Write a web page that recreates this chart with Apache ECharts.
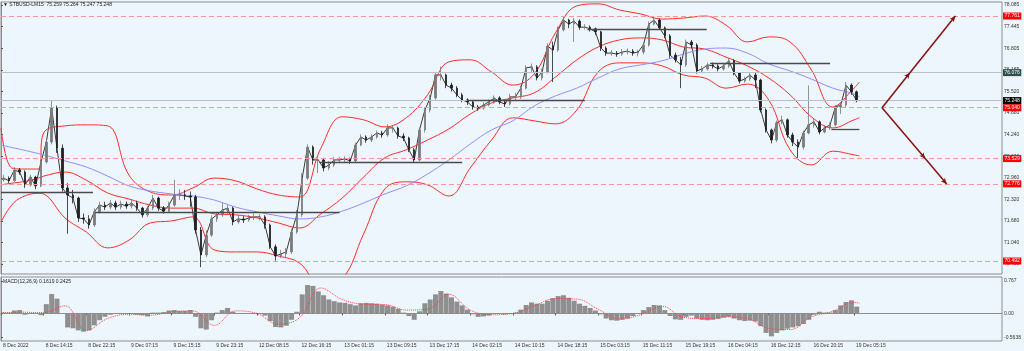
<!DOCTYPE html>
<html><head><meta charset="utf-8">
<script src="https://cdn.jsdelivr.net/npm/echarts@6/dist/echarts.min.js"></script>
<style>html,body{margin:0;padding:0;background:#eef6fd;}#c{width:1024px;height:351px;}</style>
</head><body><div id="c"></div>
<script>
// ---- tick labels ----
const xTickLabels = ["8 Dec 2022","8 Dec 14:15","8 Dec 22:15","9 Dec 07:15","9 Dec 15:15","9 Dec 23:15","12 Dec 08:15","12 Dec 16:15","13 Dec 01:15","13 Dec 09:15","13 Dec 17:15","14 Dec 02:15","14 Dec 10:15","14 Dec 18:15","15 Dec 03:15","15 Dec 11:15","15 Dec 19:15","16 Dec 04:15","16 Dec 12:15","16 Dec 20:15","19 Dec 05:15"];
const yTicks = [70.4,71.04,71.68,72.32,72.96,73.6,74.24,74.88,75.52,76.165,76.805,77.445,78.085];
const macdTicks = [-0.5638,0,0.767];
const macdTickLabels = ["-0.5638","0.00","0.767"];

// ---- price (hourly candles, open = previous close) ----
const firstOpen = 72.90;
const closes = [
72.95,72.87,73.19,73.13,72.75,72.98,72.72,73.43,74.02,75.03,
73.84,72.66,72.45,72.36,71.77,71.74,71.56,71.95,72.15,72.09,
72.21,72.09,72.18,72.12,72.21,72.06,71.86,72.06,72.36,72.06,
71.97,72.15,72.45,72.45,72.42,72.39,71.41,70.67,71.26,71.74,
71.86,72.00,72.06,71.65,71.74,71.71,71.77,71.80,71.80,71.56,
70.91,70.64,70.70,70.76,71.35,71.86,72.95,73.87,73.49,73.49,
73.25,73.34,73.49,73.49,73.52,73.46,73.93,74.17,74.08,74.17,
74.29,74.23,74.44,74.44,74.20,74.14,73.79,73.49,74.38,74.97,
75.33,76.01,76.01,75.71,75.62,75.42,75.27,75.21,75.06,75.03,
75.12,75.21,75.33,75.21,75.15,75.36,75.36,75.62,76.22,76.25,
75.92,76.10,76.87,76.75,77.35,77.64,77.52,77.61,77.43,77.43,
77.38,77.29,76.81,76.66,76.66,76.63,76.69,76.72,76.66,76.69,
76.90,77.52,77.64,77.41,77.17,76.60,76.46,76.31,76.99,76.90,
76.13,76.19,76.31,76.28,76.19,76.28,76.43,76.07,75.83,75.89,
76.01,75.86,74.97,74.38,74.08,74.59,74.68,74.23,74.02,73.87,
74.29,74.53,74.62,74.32,74.44,74.53,75.06,75.12,75.71,75.51,
75.248];
const highs = [
73.05,73.00,73.28,73.25,73.18,73.05,73.02,73.50,74.15,75.25,
75.10,73.95,72.80,72.60,72.40,71.90,71.85,72.05,72.25,72.25,
72.30,72.28,72.28,72.26,72.30,72.28,72.10,72.12,72.45,72.40,
72.12,72.25,72.90,72.62,72.60,72.55,72.45,71.50,71.40,71.85,
71.95,72.22,72.15,72.10,71.85,71.82,71.86,71.90,71.88,71.85,
71.60,70.98,70.82,70.88,71.45,72.00,73.10,73.95,73.92,73.62,
73.55,73.45,73.58,73.58,73.60,73.56,74.00,74.25,74.22,74.25,
74.36,74.35,74.55,74.52,74.48,74.28,74.18,73.85,74.45,75.05,
75.42,76.10,76.26,76.05,75.78,75.68,75.48,75.32,75.26,75.12,
75.20,75.28,75.40,75.38,75.26,75.45,75.48,75.70,76.30,76.35,
76.30,76.20,76.95,77.00,77.45,77.75,77.68,77.70,77.66,77.52,
77.48,77.42,77.32,76.86,76.75,76.72,76.78,76.80,76.78,76.76,
76.98,77.60,77.76,77.68,77.45,77.22,76.68,76.55,77.06,77.05,
76.95,76.28,76.38,76.38,76.33,76.36,76.50,76.48,76.10,75.96,
76.08,76.10,75.90,75.02,74.42,74.66,74.80,74.72,74.30,74.10,
74.36,75.70,74.72,74.66,74.52,74.60,75.12,75.20,75.80,75.76,
75.55];
const lows = [
72.85,72.80,72.84,73.05,72.66,72.70,72.62,72.68,73.38,73.95,
73.70,72.55,71.30,72.20,71.65,71.60,71.45,71.50,71.90,72.00,
72.02,72.00,72.02,72.04,72.05,71.98,71.78,71.80,72.00,71.98,
71.90,71.92,72.10,72.30,72.30,72.10,71.30,70.31,70.60,71.20,
71.65,71.80,71.90,71.55,71.60,71.62,71.66,71.70,71.70,71.45,
70.85,70.50,70.58,70.60,70.70,71.30,71.80,72.90,73.35,73.10,
73.15,73.18,73.28,73.40,73.42,73.38,73.42,73.90,74.00,74.02,
74.12,74.15,74.18,74.30,74.12,74.05,73.72,73.40,73.45,74.30,
74.90,75.28,75.85,75.62,75.52,75.35,75.20,75.12,74.98,74.95,
74.98,75.08,75.16,75.14,75.06,75.10,75.26,75.30,75.58,76.10,
75.85,75.85,76.05,75.80,76.70,77.30,77.40,76.99,77.35,77.36,
77.30,77.20,76.72,76.58,76.58,76.55,76.58,76.62,76.58,76.56,
76.62,76.85,77.48,77.35,77.10,76.52,76.38,75.62,76.25,76.80,
76.05,76.08,76.14,76.20,76.12,76.14,76.22,76.00,75.76,75.78,
75.84,75.62,74.90,74.30,73.98,74.02,74.55,74.15,73.90,73.55,
73.80,74.25,74.45,74.25,74.28,74.38,74.48,74.85,75.05,75.42,
75.20];

// ---- indicator lines sampled at bar indices ----
const bandBars = [0,8,16,28,32,48,64,80,96,112,128,144,160,176,192,208,224,240,256,272,288,304,320,336,352,368,384,400,416,432,448,464,480,496,512,528,544,560,576,592,608,624,640,644];
const bbUpper = [74.44,73.25,73.22,73.22,74.29,74.50,74.53,74.50,73.04,72.54,72.45,72.66,
72.95,72.87,72.63,72.45,72.39,73.84,74.77,74.68,74.47,74.74,
75.42,76.40,76.46,76.10,75.71,76.04,77.26,78.06,78.12,77.94,
77.82,77.67,77.70,77.76,77.49,76.99,77.14,76.99,76.16,75.06,
75.62,75.80];
const bbMiddle = [72.75,72.80,72.84,72.95,73.01,73.13,72.89,72.51,72.33,72.15,72.06,72.06,
71.89,71.86,71.77,71.62,71.47,71.89,72.36,72.98,73.55,73.79,
74.08,74.41,74.85,75.18,75.33,75.48,75.95,76.46,76.84,77.05,
77.11,77.05,76.84,76.78,76.54,76.28,75.92,75.42,74.77,74.44,
74.68,74.74];
const bbLower = [71.65,72.15,72.39,72.50,72.48,71.77,71.35,70.88,71.11,71.62,71.68,71.80,
70.82,70.76,70.76,70.64,70.43,69.78,69.96,71.29,72.63,72.84,
72.75,72.42,73.25,74.08,74.74,74.65,74.56,74.97,76.10,76.37,
76.37,76.28,76.01,75.92,75.62,75.74,75.27,73.79,73.34,73.75,
73.64,73.61];
const maLine = [73.93,73.86,73.79,73.68,73.64,73.46,73.28,73.01,72.72,72.57,72.48,72.42,
72.30,72.09,71.95,71.83,71.74,71.80,71.97,72.21,72.48,72.72,
73.07,73.49,73.96,74.38,74.65,75.09,75.39,75.62,75.92,76.19,
76.31,76.43,76.63,76.78,76.81,76.66,76.34,76.13,75.89,75.62,
75.45,75.36];

// ---- MACD (hourly) and signal (sampled at bandBars) ----
const macd = [
0.02,0.02,0.07,0.08,-0.03,0.01,0.01,-0.04,0.22,0.46,
0.35,0.00,-0.33,-0.35,-0.40,-0.43,-0.40,-0.28,-0.16,-0.08,
-0.03,-0.01,-0.01,-0.01,-0.01,-0.03,-0.04,-0.07,0.02,0.02,
0.03,0.07,0.08,0.06,0.06,0.08,-0.08,-0.35,-0.38,-0.16,
0.02,0.08,0.13,0.04,-0.01,0.00,0.00,0.00,0.00,-0.05,
-0.18,-0.32,-0.33,-0.29,-0.15,0.04,0.45,0.67,0.65,0.52,
0.43,0.33,0.29,0.26,0.25,0.22,0.19,0.24,0.25,0.24,
0.23,0.21,0.19,0.16,0.11,0.02,-0.06,-0.15,0.05,0.24,
0.33,0.45,0.53,0.47,0.38,0.28,0.19,0.09,-0.02,-0.08,
-0.07,-0.05,-0.01,-0.01,-0.02,0.00,0.02,0.09,0.20,0.26,
0.23,0.23,0.30,0.36,0.41,0.43,0.37,0.30,0.23,0.18,
0.13,0.07,-0.02,-0.12,-0.16,-0.17,-0.15,-0.12,-0.06,0.00,
0.08,0.15,0.20,0.19,0.08,-0.06,-0.14,-0.15,-0.08,-0.05,
-0.12,-0.15,-0.16,-0.15,-0.13,-0.10,-0.08,-0.12,-0.16,-0.18,
-0.17,-0.19,-0.30,-0.46,-0.54,-0.46,-0.40,-0.36,-0.33,-0.30,
-0.25,-0.15,-0.03,0.04,0.02,0.02,0.08,0.19,0.27,0.31,
0.1619];
const signal = [0.02,0.02,0.03,0.02,0.02,0.18,-0.40,-0.12,-0.02,-0.04,0.04,0.06,
-0.28,0.06,0.00,-0.25,-0.10,0.60,0.33,0.22,0.21,0.08,
0.10,0.45,0.08,-0.03,0.00,0.18,0.35,0.34,0.10,-0.13,
-0.03,0.17,-0.09,-0.12,-0.08,-0.12,-0.35,-0.38,-0.08,0.05,
0.26,0.2425];

// ---- levels and drawn objects ----
const redLevels = [77.761,75.040,73.529,72.776,70.492];
const greyLevels = [76.076,75.248];
const greyLevelBoxes = ['#2f4f4f','#000000'];
const segStart = [0,70.5,239,349.5,440,532,623];
const segEnd = [69,254,346,438,529.5,622,644];
const segLevel = [72.54,71.93,73.41,75.27,77.37,76.37,74.40];
const arrowStart = [661,75.040];
const arrowUp = [[681.9,76.076],[716,77.761]];
const arrowDown = [[693.4,73.529],[709.5,72.776]];

const FONT = 'Liberation Sans, Arial, sans-serif';
const xMax = 751;
const tickBars = xTickLabels.map((_, k) => 32 * k);
const candleData = closes.map((c, i) => [4 * i + 2, i === 0 ? firstOpen : closes[i - 1], c, lows[i], highs[i]]);
const closeTrace = closes.map((c, i) => [4 * i + 2, c]);
const pair = arr => bandBars.map((b, i) => [b, arr[i]]);
const macdData = macd.map((v, i) => [4 * i + 2, v]);

const boxLabel = (bg, v) => ({show: true, position: 'end', distance: 1, formatter: v.toFixed(3),
  backgroundColor: bg, color: '#fff', fontSize: 5, fontFamily: FONT, padding: [1, 1.5, 1, 1.5]});

const levelLines = [];
redLevels.forEach(v => levelLines.push({yAxis: v, lineStyle: {color: '#f19a9a', type: [5, 3], width: 1}, label: boxLabel('#ff0000', v)}));
greyLevels.forEach((v, i) => levelLines.push({yAxis: v, lineStyle: {color: '#b7c0c8', type: 'solid', width: 1}, label: boxLabel(greyLevelBoxes[i], v)}));
segLevel.forEach((v, i) => levelLines.push([
  {coord: [segStart[i], v], lineStyle: {color: '#4a4a4a', type: 'solid', width: 1.3}, label: {show: false}},
  {coord: [segEnd[i], v]}
]));

const arrowLines = [];
[arrowUp, arrowDown].forEach(path => {
  let prev = arrowStart;
  path.forEach(pt => { arrowLines.push([{coord: prev}, {coord: pt}]); prev = pt; });
});

const lineS = (name, arr, color, extra) => Object.assign({
  name, type: 'line', xAxisIndex: 0, yAxisIndex: 0, data: pair(arr), smooth: 0.4, showSymbol: false, symbol: 'none',
  lineStyle: {color, width: 1}, silent: true, z: 3
}, extra || {});

const option = {
  backgroundColor: '#eef6fd',
  animation: false,
  grid: [
    {left: 1, top: 2, width: 1001, height: 272, show: true, borderColor: '#8e8e8e', borderWidth: 1},
    {left: 1, top: 277, width: 1001, height: 64, show: true, borderColor: '#8e8e8e', borderWidth: 1}
  ],
  xAxis: [
    {type: 'value', gridIndex: 0, min: 0, max: xMax, interval: 32, axisLine: {show: false}, axisTick: {show: false}, axisLabel: {show: false}, splitLine: {show: false}},
    {type: 'value', gridIndex: 1, min: 0, max: xMax, interval: 32,
      axisLine: {show: true, lineStyle: {color: '#8e8e8e'}},
      axisTick: {show: true, length: 2, customValues: tickBars, lineStyle: {color: '#555'}},
      axisLabel: {customValues: tickBars, formatter: v => xTickLabels[Math.round(v / 32)] || '', align: 'left', fontSize: 5, fontFamily: FONT, color: '#333', margin: 2, padding: [0, 0, 0, 2]},
      splitLine: {show: false}}
  ],
  yAxis: [
    {type: 'value', gridIndex: 0, position: 'right', min: 70.105, max: 78.176,
      axisLine: {show: true, lineStyle: {color: '#8e8e8e'}},
      axisTick: {show: true, length: 2, customValues: yTicks, lineStyle: {color: '#555'}},
      axisLabel: {customValues: yTicks, formatter: v => v.toFixed(3), fontSize: 5, fontFamily: FONT, color: '#333', margin: 2},
      splitLine: {show: false}},
    {type: 'value', gridIndex: 1, position: 'right', min: -0.65, max: 0.86,
      axisLine: {show: true, lineStyle: {color: '#8e8e8e'}},
      axisTick: {show: true, length: 2, customValues: macdTicks, lineStyle: {color: '#555'}},
      axisLabel: {customValues: macdTicks, formatter: v => { const k = macdTicks.findIndex(t => Math.abs(t - v) < 1e-6); return k >= 0 ? macdTickLabels[k] : ''; }, fontSize: 5, fontFamily: FONT, color: '#333', margin: 2},
      splitLine: {show: false}}
  ],
  graphic: [
    {type: 'text', left: 3, top: 2, style: {text: '\u25BC STBUSD-LM15  75.259 75.264 75.247 75.248', fontSize: 5, fontFamily: FONT, fill: '#222'}},
    {type: 'text', left: 3, top: 279, style: {text: 'MACD(12,26,9) 0.1619 0.2425', fontSize: 5, fontFamily: FONT, fill: '#222'}}
  ],
  series: [
    {name: 'closeTrace', type: 'line', xAxisIndex: 0, yAxisIndex: 0, data: closeTrace, showSymbol: false, symbol: 'none',
      lineStyle: {color: '#3a3a3a', width: 1}, silent: true, z: 3},
    {name: 'price', type: 'candlestick', xAxisIndex: 0, yAxisIndex: 0, data: candleData, barWidth: 2, z: 4,
      itemStyle: {color: '#7a7a7a', color0: '#1e1e1e', borderColor: '#7a7a7a', borderColor0: '#1e1e1e', borderWidth: 0.8},
      markLine: {silent: true, symbol: ['none', 'none'], animation: false, data: levelLines}},
    lineS('upper', bbUpper, '#ff2a2a'),
    lineS('middle', bbMiddle, '#ff2a2a'),
    lineS('lower', bbLower, '#ff2a2a'),
    lineS('ma', maLine, '#8f8fff'),
    {name: 'arrows', type: 'line', xAxisIndex: 0, yAxisIndex: 0, data: [arrowStart], showSymbol: false, symbol: 'none', lineStyle: {opacity: 0}, z: 5,
      markLine: {silent: true, symbol: ['none', 'arrow'], symbolSize: [4, 6], animation: false,
        lineStyle: {color: '#8b1010', width: 1.5, type: 'solid'}, label: {show: false}, data: arrowLines}},
    {name: 'macd', type: 'bar', xAxisIndex: 1, yAxisIndex: 1, data: macdData, barWidth: 5, itemStyle: {color: '#8f8f8f'}, silent: true},
    {name: 'signal', type: 'line', xAxisIndex: 1, yAxisIndex: 1, data: pair(signal), smooth: 0.4, showSymbol: false, symbol: 'none',
      lineStyle: {color: '#ff4040', width: 1, type: 'dotted'}, silent: true, z: 3}
  ]
};
const chart = echarts.init(document.getElementById('c'));
chart.setOption(option);
</script></body></html>
